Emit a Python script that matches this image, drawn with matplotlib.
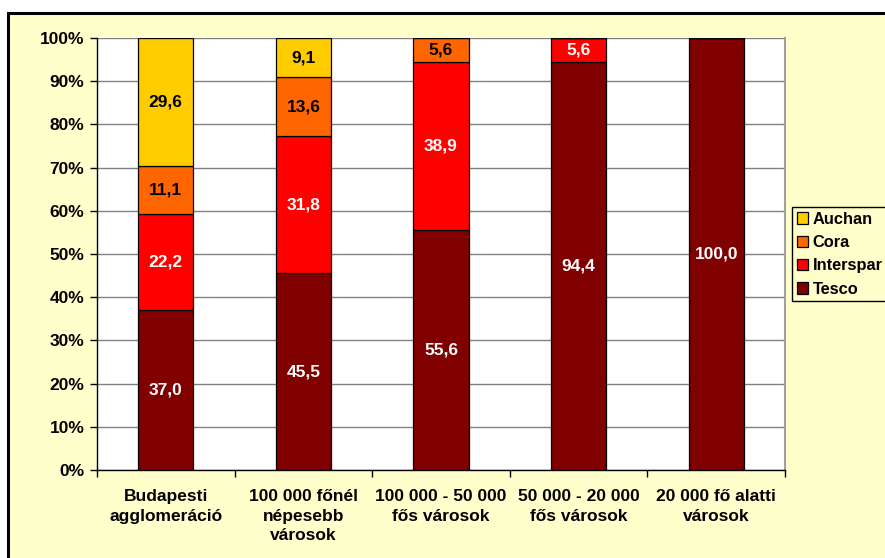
import matplotlib
matplotlib.use("Agg")
import matplotlib.pyplot as plt
from matplotlib.patches import Rectangle
import numpy as np

plt.rcParams['font.family'] = ['Liberation Sans', 'DejaVu Sans']
plt.rcParams['font.weight'] = 'bold'

categories = ["Budapesti\nagglomeráció", "100 000 főnél\nnépesebb\nvárosok",
              "100 000 - 50 000\nfős városok", "50 000 - 20 000\nfős városok",
              "20 000 fő alatti\nvárosok"]
series = ["Tesco", "Interspar", "Cora", "Auchan"]
tesco = [37.0, 45.5, 55.6, 94.4, 100.0]
interspar = [22.2, 31.8, 38.9, 5.6, 0.0]
cora = [11.1, 13.6, 5.6, 0.0, 0.0]
auchan = [29.6, 9.1, 0.0, 0.0, 0.0]
colors = ["#800000", "#FF0000", "#FF6600", "#FFCC00"]
label_colors = ["white", "white", "black", "black"]
yticks = [0, 10, 20, 30, 40, 50, 60, 70, 80, 90, 100]
ytick_labels = [f"{v}%" for v in yticks]

FS = 12.5
W, H = 885, 558
fig = plt.figure(figsize=(W / 100, H / 100), dpi=100, facecolor="white")
fig.patches.append(Rectangle((8 / W, -0.1), 1.2, 1 - 13 / H + 0.1, transform=fig.transFigure,
                             facecolor="#FFFFCC", edgecolor="black", linewidth=2.2, zorder=-10))

ax = fig.add_axes([97 / W, 1 - 470 / H, (785 - 97) / W, (470 - 38) / H])
ax.set_facecolor("white")

data = np.array([tesco, interspar, cora, auchan])
totals = data.sum(axis=0)
pct = data / totals * 100
x = np.arange(len(categories))
bottom = np.zeros(len(categories))
handles = []
for i, name in enumerate(series):
    b = ax.bar(x, pct[i], 0.4, bottom=bottom, color=colors[i], edgecolor="black",
               linewidth=0.9, label=name, zorder=3)
    handles.append(b)
    for j in range(len(categories)):
        if data[i][j] > 0:
            ax.text(x[j], bottom[j] + pct[i][j] / 2, f"{data[i][j]:.1f}".replace(".", ","),
                    ha="center", va="center", color=label_colors[i], fontsize=FS,
                    fontweight="bold", zorder=4)
    bottom += pct[i]

ax.set_xlim(-0.5, len(categories) - 0.5)
ax.set_ylim(0, 100)
ax.set_yticks(yticks)
ax.set_yticklabels(ytick_labels, fontsize=FS, fontweight="bold")
ax.yaxis.grid(True, color="#808080", linewidth=1.0, zorder=0)
ax.set_axisbelow(True)

ax.set_xticks(x)
ax.set_xticklabels(categories, fontsize=FS, fontweight="bold", linespacing=1.35)
ax.tick_params(axis="x", length=0, pad=14)
ax.set_xticks(np.arange(-0.5, len(categories), 1.0), minor=True)
ax.tick_params(axis="x", which="minor", length=5, width=1, color="black", direction="out")
ax.tick_params(axis="y", length=5, width=1, direction="out", pad=4)

for s in ["left", "bottom"]:
    ax.spines[s].set_color("black")
    ax.spines[s].set_linewidth(1.0)
ax.spines["top"].set_visible(False)
ax.spines["right"].set_color("#A0A0A0")
ax.spines["right"].set_linewidth(1.5)

leg = fig.legend(handles[::-1], series[::-1], loc="upper left",
                 bbox_to_anchor=(792 / W, 1 - 207 / H), frameon=True, fancybox=False,
                 edgecolor="black", facecolor="#FFFFCC", framealpha=1,
                 prop={"size": 11.8, "weight": "bold"}, handlelength=0.7, handleheight=0.7,
                 handletextpad=0.25, labelspacing=0.5, borderpad=0.3, borderaxespad=0)
leg.get_frame().set_linewidth(1.0)

fig.savefig("out.png", dpi=100, facecolor=fig.get_facecolor())
